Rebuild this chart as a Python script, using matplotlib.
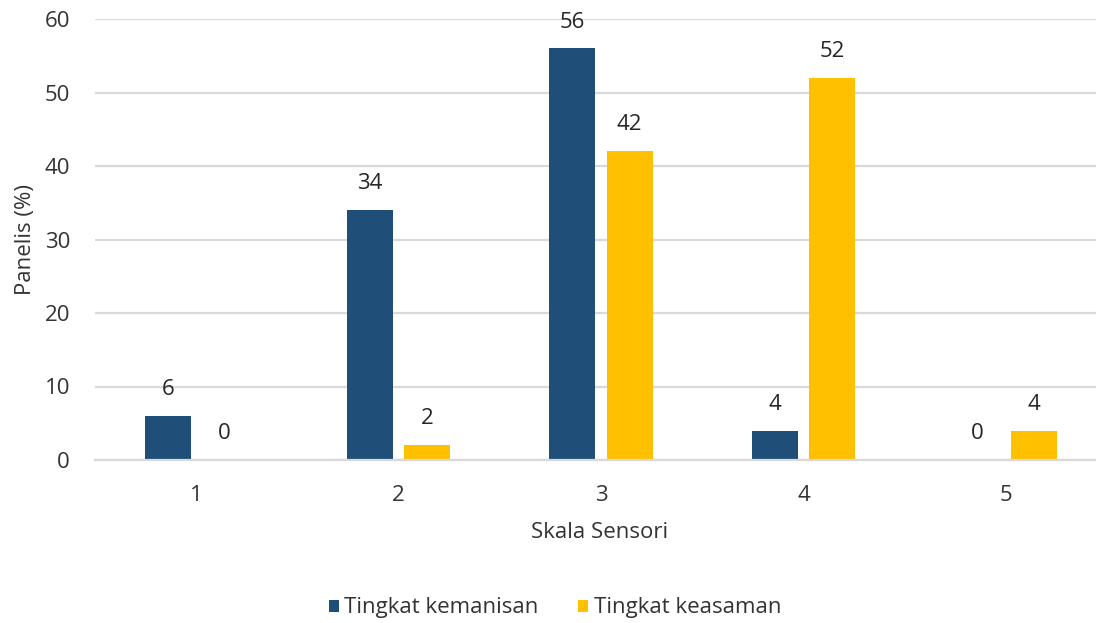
import matplotlib
matplotlib.use('Agg')
import matplotlib.pyplot as plt
import numpy as np

plt.rcParams['font.family'] = ['Open Sans', 'DejaVu Sans']

skala = ['1', '2', '3', '4', '5']
kemanisan = [6, 34, 56, 4, 0]
keasaman = [0, 2, 42, 52, 4]
y_ticks = [0, 10, 20, 30, 40, 50, 60]

blue = '#1F4E79'
yellow = '#FFC000'
txt = '#333333'
fs = 16

fig = plt.figure(figsize=(10.96, 6.23), dpi=100)
ax = fig.add_axes([95/1096, 163/623, 1012/1096, 441/623])

x = np.arange(1, len(skala)+1)
w = 0.227
off = 0.141
b1 = ax.bar(x-off, kemanisan, w, color=blue, label='Tingkat kemanisan', zorder=2)
b2 = ax.bar(x+off, keasaman, w, color=yellow, label='Tingkat keasaman', zorder=2)

for bars in (b1, b2):
 for r in bars:
  h = r.get_height()
  ax.annotate(str(int(h)), (r.get_x()+r.get_width()/2, h), xytext=(0, 19),
   textcoords='offset points', ha='center', va='center', fontsize=fs, color='#262626')

ax.set_xlim(0.5, 5.5)
ax.set_ylim(0, 60)
ax.set_yticks(y_ticks)
ax.set_xticks(x)
ax.set_xticklabels(skala)
ax.yaxis.grid(True, color='#D9D9D9', linewidth=1.6, zorder=0)
ax.set_axisbelow(True)
for s in ['top', 'right', 'left']:
 ax.spines[s].set_visible(False)
ax.spines['bottom'].set_color('#D9D9D9')
ax.spines['bottom'].set_linewidth(1.6)
ax.tick_params(axis='both', length=0, labelsize=fs, labelcolor=txt)
ax.tick_params(axis='x', pad=18)
ax.tick_params(axis='y', pad=18)

ax.set_xlabel('Skala Sensori', fontsize=fs, color=txt)
ax.set_ylabel('Panelis (%)', fontsize=fs, color=txt)
ax.xaxis.set_label_coords((600-95)/1012, -(533-460)/441)
ax.xaxis.label.set_va('center')
ax.yaxis.set_label_coords(-(95-25)/1012, 0.5)
ax.yaxis.label.set_va('center')

fig.legend(handles=[b1, b2], loc='center', bbox_to_anchor=(555/1096, 1-608/623),
 ncol=2, frameon=False, fontsize=fs, handlelength=0.45, handleheight=0.45,
 handletextpad=0.25, columnspacing=1.8, labelcolor=txt)

fig.savefig('out.png', dpi=100)
